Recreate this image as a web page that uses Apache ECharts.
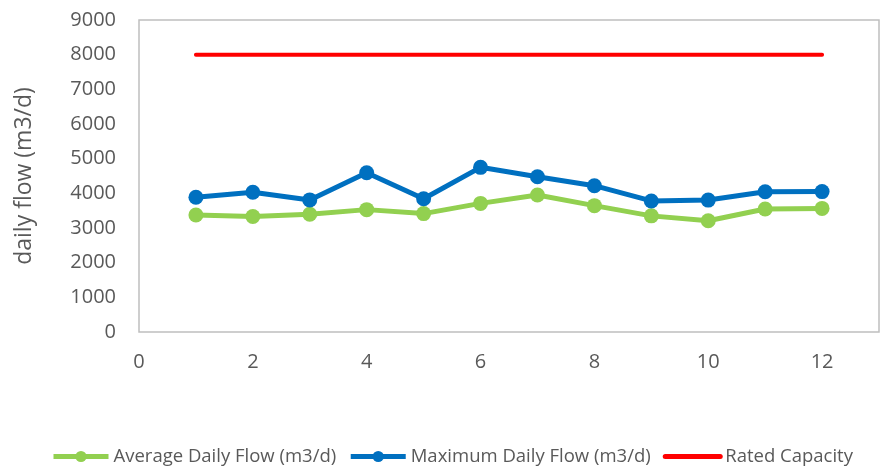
<!DOCTYPE html>
<html>
<head>
<meta charset="utf-8">
<script src="https://cdn.jsdelivr.net/npm/echarts@6/dist/echarts.min.js"></script>
<style>
  html, body { margin: 0; padding: 0; background: #fff; }
  #chart { width: 880px; height: 469px; }
</style>
</head>
<body>
<div id="chart"></div>
<script>
// data
const months = [1, 2, 3, 4, 5, 6, 7, 8, 9, 10, 11, 12];
const avgFlow = [3375, 3330, 3395, 3530, 3415, 3710, 3950, 3645, 3350, 3210, 3550, 3565];
const maxFlow = [3885, 4030, 3810, 4595, 3845, 4750, 4480, 4220, 3780, 3805, 4045, 4050];
const ratedCapacity = [8000, 8000, 8000, 8000, 8000, 8000, 8000, 8000, 8000, 8000, 8000, 8000];

const pairs = (vals) => months.map((m, i) => [m, vals[i]]);
const font = 'Open Sans, Liberation Sans, sans-serif';

const chart = echarts.init(document.getElementById('chart'));
chart.setOption({
  animation: false,
  grid: { left: 139, top: 20, right: 1, bottom: 137, show: true, borderColor: '#bfbfbf', borderWidth: 1.5 },
  xAxis: {
    type: 'value', min: 0, max: 13, interval: 2,
    axisLine: { show: false }, axisTick: { show: false }, splitLine: { show: false },
    axisLabel: { color: '#595959', fontSize: 20, fontFamily: font, margin: 20, showMaxLabel: false }
  },
  yAxis: {
    type: 'value', min: 0, max: 9000, interval: 1000,
    name: 'daily flow (m3/d)', nameLocation: 'middle', nameGap: 103, nameRotate: 90,
    nameTextStyle: { color: '#595959', fontSize: 23, fontFamily: font },
    axisLine: { show: false }, axisTick: { show: false }, splitLine: { show: false },
    axisLabel: { color: '#595959', fontSize: 20, fontFamily: font, margin: 23, formatter: (v) => String(v) }
  },
  legend: {
    top: 442, left: 46, itemWidth: 55, itemHeight: 14, itemGap: 12,
    lineStyle: { width: 5 },
    textStyle: { color: '#595959', fontSize: 18.5, fontFamily: font },
    data: [
      'Average Daily Flow (m3/d)',
      'Maximum Daily Flow (m3/d)',
      { name: 'Rated Capacity', itemStyle: { opacity: 0 } }
    ]
  },
  series: [
    {
      name: 'Average Daily Flow (m3/d)', type: 'line', data: pairs(avgFlow),
      symbol: 'circle', symbolSize: 15, color: '#92d050',
      lineStyle: { width: 5, color: '#92d050' }
    },
    {
      name: 'Maximum Daily Flow (m3/d)', type: 'line', data: pairs(maxFlow),
      symbol: 'circle', symbolSize: 15, color: '#0070c0',
      lineStyle: { width: 5, color: '#0070c0' }
    },
    {
      name: 'Rated Capacity', type: 'line', data: pairs(ratedCapacity),
      symbol: 'none', color: '#ff0000',
      lineStyle: { width: 4, color: '#ff0000', cap: 'round' }
    }
  ]
});
</script>
</body>
</html>
